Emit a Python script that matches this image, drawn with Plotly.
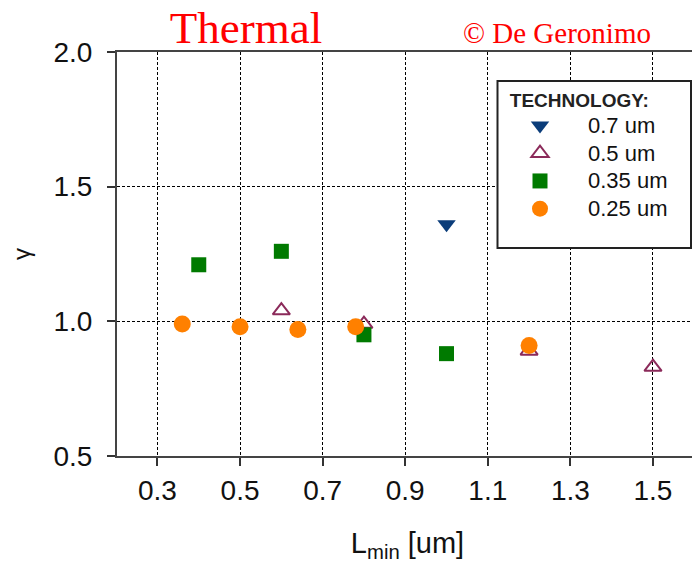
import plotly.graph_objects as go

# Data
x_07 = [1.0]
y_07 = [1.36]

x_05 = [0.6, 0.8, 1.2, 1.5]
y_05 = [1.04, 0.99, 0.89, 0.83]

x_035 = [0.4, 0.6, 0.8, 1.0]
y_035 = [1.21, 1.26, 0.95, 0.88]

x_025 = [0.36, 0.5, 0.64, 0.78, 1.2]
y_025 = [0.99, 0.98, 0.97, 0.98, 0.91]

series_names = ["0.7 um", "0.5 um", "0.35 um", "0.25 um"]
x_ticks = [0.3, 0.5, 0.7, 0.9, 1.1, 1.3, 1.5]
y_ticks = [0.5, 1.0, 1.5, 2.0]

# Layout geometry (the page adds an 8px body margin, so the figure is 8px smaller)
W, H = 692, 562
ML, MR, MT, MB = 109, 2, 44, 114
PW, PH = W - ML - MR, H - MT - MB
OFF = 8


def px_to_paper_x(px):
    return (px - OFF - ML) / PW


def px_to_paper_y(py):
    return 1 - (py - OFF - MT) / PH


def legend_name(s):
    return '<span style="font-size:22px">' + s + '</span>'


fig = go.Figure()
fig.add_trace(go.Scatter(x=x_07, y=y_07, mode="markers", name=legend_name(series_names[0]),
                         marker=dict(symbol="triangle-down", size=16, color="#0b3d7a")))
fig.add_trace(go.Scatter(x=x_05, y=y_05, mode="markers", name=legend_name(series_names[1]),
                         marker=dict(symbol="triangle-up-open", size=15, color="#8b2a5a",
                                     line=dict(width=2, color="#8b2a5a"))))
fig.add_trace(go.Scatter(x=x_035, y=y_035, mode="markers", name=legend_name(series_names[2]),
                         marker=dict(symbol="square", size=15, color="#007a00")))
fig.add_trace(go.Scatter(x=x_025, y=y_025, mode="markers", name=legend_name(series_names[3]),
                         marker=dict(symbol="circle", size=17, color="#ff8000")))

axis_font = dict(family="Liberation Sans, Arial, sans-serif", size=28, color="#111")

fig.update_layout(
    width=W, height=H,
    margin=dict(l=ML, r=MR, t=MT, b=MB),
    paper_bgcolor="white", plot_bgcolor="white",
    font=dict(family="Liberation Sans, Arial, sans-serif", color="#111"),
    title=dict(text="Thermal", x=(246 - OFF) / W, y=1 - (27 - OFF) / H,
               xanchor="center", yanchor="middle",
               font=dict(family="Liberation Serif, Times New Roman, serif", size=45, color="#ff0000")),
    xaxis=dict(range=[0.202, 1.609], tickvals=x_ticks, tickformat=".1f", automargin=False,
               showgrid=True, gridcolor="black", griddash="3px,2px", gridwidth=1,
               showline=True, linecolor="#444", linewidth=2, mirror=True,
               ticks="outside", ticklen=8, tickwidth=1.5, tickcolor="#333",
               tickfont=axis_font, zeroline=False,
               title=dict(text="L<sub>min</sub> [um]", font=dict(size=29, color="#111"), standoff=28)),
    yaxis=dict(range=[0.5, 2.0], tickvals=y_ticks, tickformat=".1f", automargin=False,
               showgrid=True, gridcolor="black", griddash="3px,2px", gridwidth=1,
               showline=True, linecolor="#444", linewidth=2, mirror=True,
               ticks="outside", ticklen=8, tickwidth=1.5, tickcolor="#333",
               tickfont=axis_font, zeroline=False, ticklabelstandoff=9,
               title=dict(text="γ", font=dict(size=24, color="#111"), standoff=26)),
    legend=dict(x=px_to_paper_x(492), y=px_to_paper_y(82), xanchor="left", yanchor="top",
                bgcolor="rgba(0,0,0,0)", borderwidth=0,
                font=dict(size=19, color="#111"), itemwidth=86,
                title=dict(text="&nbsp;&nbsp;&nbsp;<b>TECHNOLOGY:</b>",
                           font=dict(size=19, color="#222"))),
    shapes=[dict(type="rect", xref="paper", yref="paper",
                 x0=px_to_paper_x(497.5), x1=px_to_paper_x(691),
                 y0=px_to_paper_y(248), y1=px_to_paper_y(81),
                 line=dict(color="#222", width=2), fillcolor="white", layer="above")],
    annotations=[dict(text="© De Geronimo", xref="paper", yref="paper",
                      x=px_to_paper_x(557), y=px_to_paper_y(33), xanchor="center", yanchor="middle",
                      showarrow=False,
                      font=dict(family="Liberation Serif, Times New Roman, serif", size=29, color="#ff0000"))],
)

fig.write_html("out.html")
